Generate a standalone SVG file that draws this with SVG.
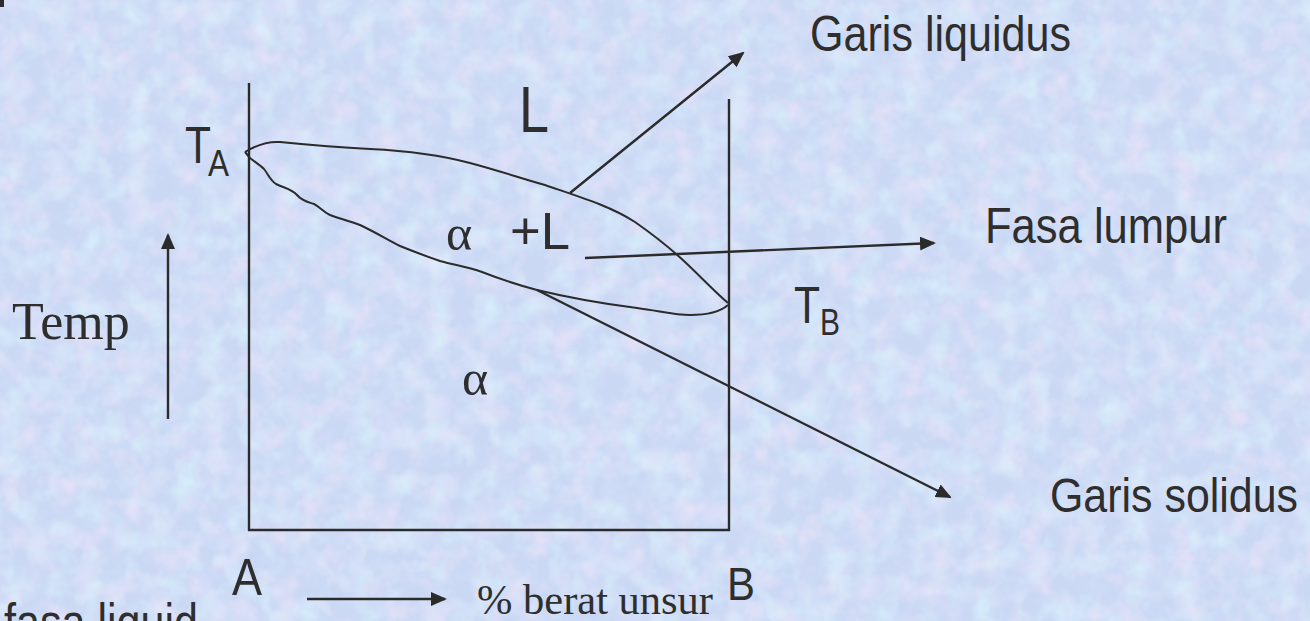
<svg xmlns="http://www.w3.org/2000/svg" width="1310" height="621" viewBox="0 0 1310 621">
<style>
.sans{font-family:"Liberation Sans Narrow","Liberation Sans",Arial,sans-serif;fill:#2e2e2e}
.serif{font-family:"Liberation Serif","Times New Roman",serif;fill:#2e2e2e}
.ax{stroke:#2b2b2b;stroke-width:2.4;fill:none}
.cv{stroke:#2b2b2b;stroke-width:2;fill:none;stroke-linejoin:round}
.ptr{stroke:#2b2b2b;stroke-width:2.4;fill:none;marker-end:url(#ah)}
</style>
<defs>
<marker id="ah" viewBox="0 0 16 14" refX="14" refY="7" markerWidth="16" markerHeight="14" markerUnits="userSpaceOnUse" orient="auto">
<path d="M0,0 L16,7 L0,14 Z" fill="#2b2b2b"/>
</marker>
<filter id="tex" x="0" y="0" width="100%" height="100%">
<feTurbulence type="fractalNoise" baseFrequency="0.04" numOctaves="3" seed="7" result="n"/>
<feColorMatrix in="n" type="matrix" values="0 0 0 0 0.90  0 0 0 0 0.80  0 0 0 0 0.96  1.8 0 0 0 -0.78" result="pink"/>
<feColorMatrix in="n" type="matrix" values="0 0 0 0 0.72  0 0 0 0 0.93  0 0 0 0 0.99  0 1.8 0 0 -0.8" result="cyan"/>
<feColorMatrix in="n" type="matrix" values="0 0 0 0 0.70  0 0 0 0 0.76  0 0 0 0 0.95  0 0 1.6 0 -0.75" result="blue"/>
<feMerge><feMergeNode in="pink"/><feMergeNode in="cyan"/><feMergeNode in="blue"/></feMerge>
</filter>
</defs>
<rect id="background" x="0" y="0" width="1310" height="621" fill="#cad8f4"/>
<rect x="0" y="0" width="1310" height="621" filter="url(#tex)" opacity="0.8"/>
<rect x="0" y="0" width="4" height="7" fill="#2b2b2b"/>

<g id="axes">
<line class="ax" x1="249" y1="83" x2="249" y2="531"/>
<line class="ax" x1="729" y1="99" x2="729" y2="531"/>
<line class="ax" x1="248" y1="530" x2="730" y2="530"/>
</g>

<g id="liquidus-curve">
<path class="cv" d="M245,152 C255,146 266,141 280,142 C300,144 330,147 370,149 C410,151 440,155 470,163 C500,171 520,178 545,185 C580,197 610,206 635,222 C655,236 670,248 685,262 C700,276 715,292 728,303"/>
</g>
<g id="solidus-curve">
<path class="cv" d="M245,152 L250,158 C255,162 260,165 264,169 C268,174 270,180 276,184 C284,188 292,189 297,195 C302,201 308,202 314,204 C320,207 322,211 330,215 C340,219 350,221 360,225 C375,232 388,240 400,246 C415,252 428,257 440,261 C455,265 468,267 482,272 C500,279 518,285 537,290 C570,298 605,304 637,308 C660,311 675,315 690,315 C705,315 720,312 728,305"/>
</g>

<g id="connectors">
<line class="ptr" x1="570" y1="193" x2="743" y2="53"/>
<line class="ptr" x1="585" y1="258" x2="934" y2="243"/>
<line class="ptr" x1="537" y1="290" x2="950" y2="497"/>
<line class="ptr" x1="168" y1="419" x2="168" y2="235"/>
<line class="ptr" x1="307" y1="599" x2="445" y2="599"/>
</g>

<g id="label-TA">
<text class="sans" x="185" y="163" font-size="52" textLength="26" lengthAdjust="spacingAndGlyphs">T</text>
<text class="sans" x="208" y="176" font-size="36" textLength="21" lengthAdjust="spacingAndGlyphs">A</text>
</g>
<g id="label-TB">
<text class="sans" x="794" y="323" font-size="52" textLength="26" lengthAdjust="spacingAndGlyphs">T</text>
<text class="sans" x="820" y="335" font-size="36" textLength="20" lengthAdjust="spacingAndGlyphs">B</text>
</g>
<g id="label-L">
<text class="sans" x="519" y="132" font-size="64" textLength="30" lengthAdjust="spacingAndGlyphs">L</text>
</g>
<g id="label-alpha-L">
<text class="serif" x="446" y="250" font-size="50">α</text>
<text class="sans" x="510" y="249" font-size="52" textLength="60" lengthAdjust="spacingAndGlyphs">+L</text>
</g>
<g id="label-alpha">
<text class="serif" x="462" y="395" font-size="50">α</text>
</g>
<g id="label-garis-liquidus">
<text class="sans" x="810" y="51" font-size="50" textLength="261" lengthAdjust="spacingAndGlyphs">Garis liquidus</text>
</g>
<g id="label-fasa-lumpur">
<text class="sans" x="985" y="243" font-size="50" textLength="242" lengthAdjust="spacingAndGlyphs">Fasa lumpur</text>
</g>
<g id="label-garis-solidus">
<text class="sans" x="1050" y="512" font-size="48" textLength="248" lengthAdjust="spacingAndGlyphs">Garis solidus</text>
</g>
<g id="label-temp">
<text class="serif" x="12" y="339" font-size="52">Temp</text>
</g>
<g id="label-A">
<text class="sans" x="232" y="595" font-size="52" textLength="30" lengthAdjust="spacingAndGlyphs">A</text>
</g>
<g id="label-B">
<text class="sans" x="727" y="600" font-size="46" textLength="28" lengthAdjust="spacingAndGlyphs">B</text>
</g>
<g id="label-berat">
<text class="serif" x="477" y="614" font-size="42" textLength="236" lengthAdjust="spacingAndGlyphs">% berat unsur</text>
</g>
<g id="label-fasa-liquid">
<text class="sans" x="4" y="640" font-size="52" textLength="194" lengthAdjust="spacingAndGlyphs">fasa liquid</text>
</g>
</svg>
